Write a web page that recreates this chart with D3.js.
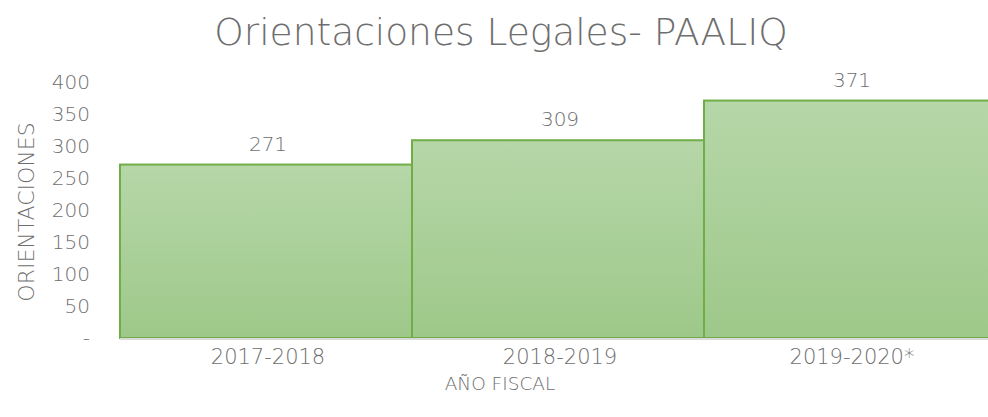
<!DOCTYPE html>
<html>
<head>
<meta charset="utf-8">
<script src="https://cdn.jsdelivr.net/npm/d3@7"></script>
<style>
  body { margin: 0; background: #fff; }
  text { font-family: "DejaVu Sans", sans-serif; font-weight: 200; fill: #6e6e6e; }
</style>
</head>
<body>
<svg id="chart" width="988" height="417"></svg>
<script>
var years = ["2017-2018", "2018-2019", "2019-2020*"];
var counts = [271, 309, 371];
var yTicks = [0, 50, 100, 150, 200, 250, 300, 350, 400];

var svg = d3.select("#chart");

var x = d3.scaleBand().domain(years).range([120, 996]).padding(0);
var y = d3.scaleLinear().domain([0, 400]).range([338, 82]);

// gradient for bars
var grad = svg.append("defs").append("linearGradient")
    .attr("id", "barGrad").attr("x1", 0).attr("y1", 0).attr("x2", 0).attr("y2", 1);
grad.append("stop").attr("offset", "0%").attr("stop-color", "#b6d7a8");
grad.append("stop").attr("offset", "100%").attr("stop-color", "#9ec88a");

// title
svg.append("text")
   .attr("x", 501).attr("y", 45)
   .attr("text-anchor", "middle")
   .style("font-size", "37.5px")
   .text("Orientaciones Legales- PAALIQ");

// bars
svg.selectAll("rect.bar")
   .data(counts)
   .enter().append("rect")
   .attr("class", "bar")
   .attr("x", function(d, i) { return x(years[i]); })
   .attr("y", function(d) { return y(d); })
   .attr("width", x.bandwidth())
   .attr("height", function(d) { return y(0) - y(d); })
   .attr("fill", "url(#barGrad)")
   .attr("stroke", "#70ad47")
   .attr("stroke-width", 2);

// value labels
svg.selectAll("text.val")
   .data(counts)
   .enter().append("text")
   .attr("class", "val")
   .attr("x", function(d, i) { return x(years[i]) + x.bandwidth() / 2 + 2; })
   .attr("y", function(d) { return y(d) - 14; })
   .attr("text-anchor", "middle")
   .style("font-size", "20px")
   .text(function(d) { return d; });

// x axis line
svg.append("line")
   .attr("x1", 120).attr("x2", 988)
   .attr("y1", y(0) + 1).attr("y2", y(0) + 1)
   .attr("stroke", "#d9d9d9").attr("stroke-width", 2);

// y axis
var yAxis = svg.append("g")
   .attr("transform", "translate(90,0)")
   .call(d3.axisLeft(y).tickValues(yTicks).tickSize(0).tickPadding(0)
        .tickFormat(function(d) { return d === 0 ? "-" : d; }));
yAxis.select(".domain").remove();
yAxis.selectAll("text")
   .style("font-size", "20px")
   .attr("fill", "#6e6e6e")
   .attr("font-family", null);

// x axis labels
var xAxis = svg.append("g")
   .attr("transform", "translate(0," + y(0) + ")")
   .call(d3.axisBottom(x).tickSize(0).tickPadding(11));
xAxis.select(".domain").remove();
xAxis.selectAll("text")
   .attr("dx", 2)
   .style("font-size", "21px")
   .attr("fill", "#6e6e6e")
   .attr("font-family", null);

// axis titles
svg.append("text")
   .attr("x", 500).attr("y", 390)
   .attr("text-anchor", "middle")
   .style("font-size", "18.5px")
   .text("AÑO FISCAL");

svg.append("text")
   .attr("transform", "translate(34,212) rotate(-90)")
   .attr("text-anchor", "middle")
   .style("font-size", "22px")
   .text("ORIENTACIONES");
</script>
</body>
</html>
